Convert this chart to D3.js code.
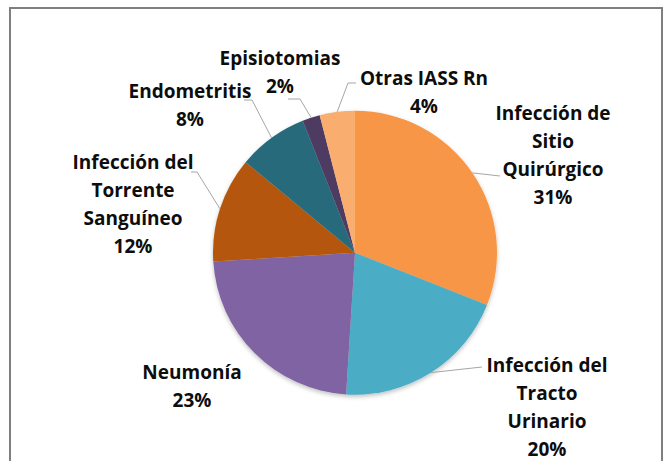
<!DOCTYPE html>
<html>
<head>
<meta charset="utf-8">
<script src="https://cdn.jsdelivr.net/npm/d3@7"></script>
<style>
  html, body { margin: 0; padding: 0; background: #fff; }
  svg { display: block; }
  .lbl { font-family: "Open Sans", Lato, sans-serif; font-weight: bold; font-size: 19px; fill: #0d0d0d; }
</style>
</head>
<body>
<div id="chart"></div>
<script>
// Daten: Kategorien und Anteile (Prozent)
const categories = [
  "Infección de Sitio Quirúrgico",
  "Infección del Tracto Urinario",
  "Neumonía",
  "Infección del Torrente Sanguíneo",
  "Endometritis",
  "Episiotomias",
  "Otras IASS Rn"
];
const values = [31, 20, 23, 12, 8, 2, 4];
// Zeilenumbrüche der Beschriftungen
const labelLines = [
  ["Infección de", "Sitio", "Quirúrgico"],
  ["Infección del", "Tracto", "Urinario"],
  ["Neumonía"],
  ["Infección del", "Torrente", "Sanguíneo"],
  ["Endometritis"],
  ["Episiotomias"],
  ["Otras IASS Rn"]
];
const colors = ["#F79646", "#4BACC6", "#8064A2", "#B45708", "#276A7C", "#4D3B62", "#F9AE70"];

// Layout: Position der Beschriftung (Mitte x, erste Grundlinie y) und Knick der Führungslinie
const labelLayout = [
  { x: 553, y: 120, elbow: [500, 176], end: null },
  { x: 547, y: 372, elbow: [482, 367], end: null },
  { x: 192, y: 379, elbow: null, end: null },
  { x: 133, y: 169, elbow: [197, 172], end: [191, 172] },
  { x: 190, y: 98, elbow: [252, 100], end: [244, 100] },
  { x: 280, y: 65, elbow: [300, 99], end: [288, 99] },
  { x: 424, y: 85, elbow: [348, 83], end: [356, 83] }
];

const W = 665, H = 461;
const cx = 355, cy = 252.7, radius = 142;
const lineH = 28;

const svg = d3.select("#chart").append("svg")
  .attr("width", W)
  .attr("height", H);

// Schatten für den Kreis
const defs = svg.append("defs");
defs.append("filter")
  .attr("id", "shadow")
  .attr("x", "-20%").attr("y", "-20%").attr("width", "140%").attr("height", "140%")
  .append("feDropShadow")
  .attr("dx", 0).attr("dy", 2)
  .attr("stdDeviation", 2)
  .attr("flood-color", "#000")
  .attr("flood-opacity", 0.25);

// Rahmen des Diagrammbereichs
svg.append("rect")
  .attr("x", 10).attr("y", 8)
  .attr("width", 652).attr("height", 470)
  .attr("fill", "#fff")
  .attr("stroke", "#7f7f7f")
  .attr("stroke-width", 2);

const data = categories.map((c, i) => ({ name: c, value: values[i], lines: labelLines[i], i }));

const pie = d3.pie().sort(null).value(d => d.value);
const arc = d3.arc().innerRadius(0).outerRadius(radius);
const arcs = pie(data);

const g = svg.append("g").attr("transform", `translate(${cx},${cy})`);

g.append("g")
  .attr("filter", "url(#shadow)")
  .selectAll("path")
  .data(arcs)
  .join("path")
  .attr("d", arc)
  .attr("fill", d => colors[d.data.i]);

// Führungslinien
const edge = d3.arc().innerRadius(radius).outerRadius(radius);
arcs.forEach(d => {
  const lay = labelLayout[d.data.i];
  if (!lay.elbow) return;
  const [ex, ey] = edge.centroid(d);
  const pts = [[cx + ex, cy + ey], lay.elbow];
  if (lay.end) pts.push(lay.end);
  svg.append("path")
    .attr("d", d3.line()(pts))
    .attr("fill", "none")
    .attr("stroke", "#a6a6a6")
    .attr("stroke-width", 1);
});

// Beschriftungen
arcs.forEach(d => {
  const lay = labelLayout[d.data.i];
  const lines = d.data.lines.concat([d.data.value + "%"]);
  const t = svg.append("text")
    .attr("class", "lbl")
    .attr("text-anchor", "middle")
    .attr("x", lay.x)
    .attr("y", lay.y);
  lines.forEach((ln, k) => {
    t.append("tspan")
      .attr("x", lay.x)
      .attr("y", lay.y + k * lineH)
      .text(ln);
  });
});
</script>
</body>
</html>
